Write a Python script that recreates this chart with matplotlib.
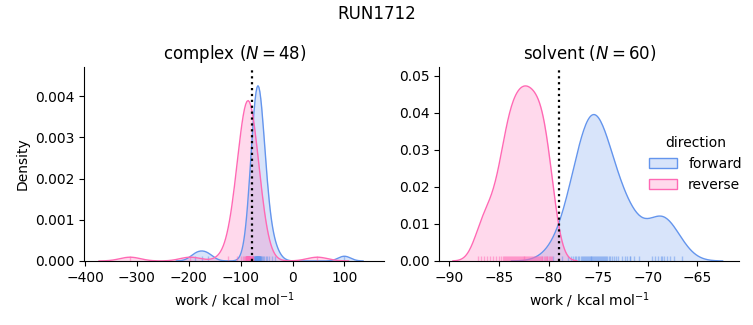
import numpy as np
import matplotlib.pyplot as plt
from matplotlib.patches import Patch
from matplotlib.colors import to_rgba

run_name = 'RUN1712'
phases = ['complex', 'solvent']
n_samples = [48, 60]
directions = ['forward', 'reverse']
colors = ['cornflowerblue', 'hotpink']

complex_forward = [-188, -175, -162,
                   -77, -76, -75, -74, -73, -73, -72, -72, -71, -71, -70, -70, -70,
                   -69, -69, -69, -68, -68, -68, -67, -67, -67, -66, -66, -66,
                   -65, -65, -65, -64, -64, -63, -63, -62, -62, -61, -60, -59,
                   -57, -55, -52, -49, -45, -40, -33,
                   100]
complex_reverse = [-313, -197,
                   -124, -107, -100, -96, -93,
                   -91, -90, -90, -89, -89, -89, -88, -88, -88, -88, -87, -87, -87, -87,
                   -86, -86, -86, -86, -85, -85, -85, -85, -84, -84, -84, -83, -83, -83,
                   -82, -82, -82, -81, -81, -80, -80, -79, -79, -78, -77, -77,
                   48]
solvent_forward = [-79.6, -78.7, -78.04, -77.77, -77.55, -77.36, -77.2, -77.05, -76.91, -76.78,
                   -76.67, -76.55, -76.44, -76.34, -76.24, -76.14, -76.04, -75.95, -75.86, -75.77,
                   -75.68, -75.59, -75.5, -75.41, -75.32, -75.23, -75.14, -75.05, -74.96, -74.86,
                   -74.76, -74.66, -74.56, -74.45, -74.33, -74.22, -74.09, -73.95, -73.8, -73.63,
                   -73.45, -73.23, -72.96, -72.57, -71.84,
                   -72.3, -72.1, -71.8, -71.4, -70.9,
                   -69.6, -69.3, -69.0, -68.7, -68.6, -68.4, -68.1, -67.8, -67.4, -66.6]
solvent_reverse = [-87.1, -86.8, -86.5, -86.2, -85.95, -85.65, -85.35, -85.05, -84.8,
                   -84.6, -84.52, -84.4, -84.31, -84.2, -84.12, -84.0, -83.92, -83.8, -83.7,
                   -83.61, -83.5, -83.42, -83.3, -83.2, -83.11, -83.0, -82.9, -82.82, -82.7,
                   -82.6, -82.5, -82.45, -82.38, -82.3, -82.2, -82.1, -82.0, -81.9, -81.82,
                   -81.7, -81.6, -81.5, -81.4, -81.3, -81.22, -81.1, -81.0, -80.9, -80.8,
                   -80.7, -80.62, -80.5, -80.4, -80.3, -80.2, -80.12, -80.0, -79.9, -79.8, -79.7]

# kde bandwidths and curve areas
complex_bw = [12.0, 20.0]
solvent_bw = [1.38, 0.85]
complex_mass = [0.166, 0.22]
solvent_mass = [0.278, 0.272]

# dotted reference line (free energy estimate)
free_energy = [-78.8, -78.95]


def kde_curve(samples, bw, mass, gridsize=200, cut=3):
    x = np.asarray(samples, dtype=float)
    grid = np.linspace(x.min() - cut * bw, x.max() + cut * bw, gridsize)
    z = (grid[:, None] - x[None, :]) / bw
    dens = np.exp(-0.5 * z ** 2).sum(axis=1) / (len(x) * bw * np.sqrt(2 * np.pi))
    return grid, dens * mass


def plot_phase(ax, data, bws, masses, dg):
    for samples, bw, mass, color in zip(data, bws, masses, colors):
        grid, dens = kde_curve(samples, bw, mass)
        ax.fill_between(grid, 0, dens, color=color, alpha=0.25, linewidth=0)
        ax.plot(grid, dens, color=color, linewidth=1)
        ax.vlines(samples, 0, 0.025, transform=ax.get_xaxis_transform(),
                  color=color, alpha=0.5, linewidth=1)
    ax.axvline(dg, color='black', linestyle=':', linewidth=1.6)
    ax.spines['top'].set_visible(False)
    ax.spines['right'].set_visible(False)
    ax.set_xlabel('work / kcal mol$^{-1}$')


fig = plt.figure(figsize=(7.53, 3.25), dpi=100)
ax1 = fig.add_axes([0.112, 0.197, 0.3984, 0.596])
ax2 = fig.add_axes([0.5834, 0.197, 0.3984, 0.596])

plot_phase(ax1, [complex_forward, complex_reverse], complex_bw, complex_mass, free_energy[0])
plot_phase(ax2, [solvent_forward, solvent_reverse], solvent_bw, solvent_mass, free_energy[1])

ax1.set_xlim(-401.3, 177)
ax1.set_ylim(0, 0.0047)
ax1.set_xticks([-400, -300, -200, -100, 0, 100])
ax1.set_yticks([0, 0.001, 0.002, 0.003, 0.004])
ax1.set_ylabel('Density')
ax1.set_title(f'{phases[0]} ($N = {n_samples[0]}$)', fontsize=12)

ax2.set_xlim(-91.02, -60.78)
ax2.set_ylim(0, 0.0523)
ax2.set_xticks([-90, -85, -80, -75, -70, -65])
ax2.set_yticks([0, 0.01, 0.02, 0.03, 0.04, 0.05])
ax2.set_title(f'{phases[1]} ($N = {n_samples[1]}$)', fontsize=12)

handles = [Patch(facecolor=to_rgba(c, 0.25), edgecolor=c, linewidth=1) for c in colors]
ax2.legend(handles, directions, title='direction', frameon=False,
           loc='center right', bbox_to_anchor=(1.05, 0.5))

fig.suptitle(run_name, fontsize=12, y=0.985)
fig.savefig('out.png', dpi=100)
